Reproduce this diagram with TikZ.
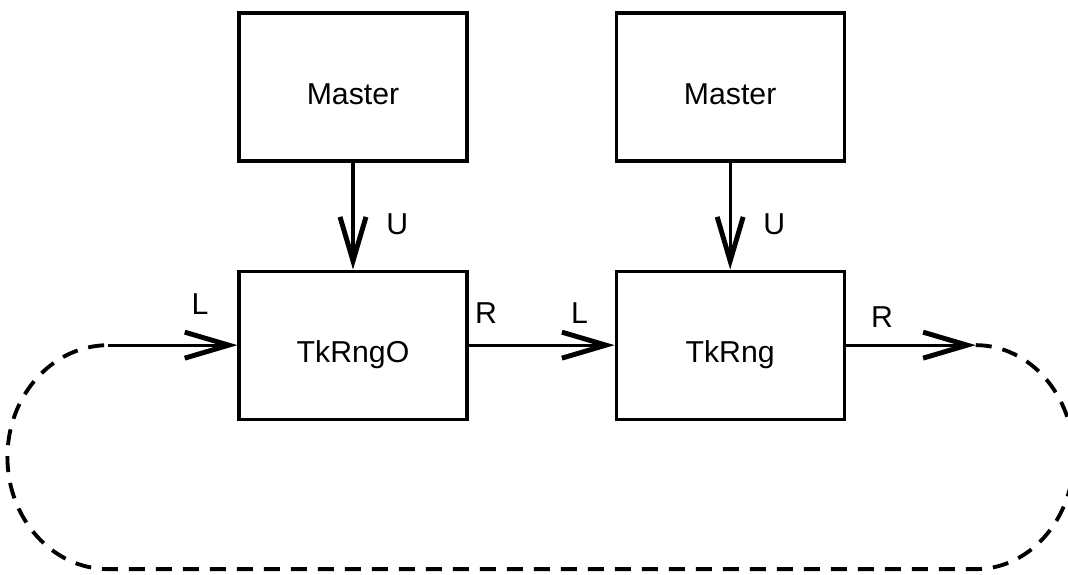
\documentclass[tikz,border=0pt]{standalone}
\usepackage{fontspec}
\setmainfont{Liberation Sans}
\usetikzlibrary{arrows.meta, positioning, calc}
\tikzset{blk/.style={draw, line width=0.9pt, minimum width=2.28cm, minimum height=1.48cm,
  text height=10pt, text depth=0pt, font=\fontsize{8.6}{10}\selectfont},
  sig/.style={line width=0.9pt, -{Straight Barb[length=4.4mm, width=2.6mm, line width=1.4pt]}},
  lbl/.style={font=\fontsize{8.6}{10}\selectfont},
  ringback/.style={line width=1.1pt, dash pattern=on 0.16cm off 0.11cm}}

\begin{document}
\begin{tikzpicture}
\useasboundingbox (0,0) rectangle (10.68,5.75);
\node[blk] (mst1) at (3.53,4.88) {Master};
\node[blk, below=1.07cm of mst1] (tko) {TkRngO};
\node[blk, right=1.46cm of tko] (tk) {TkRng};
\node[blk, above=1.07cm of tk] (mst2) {Master};
\coordinate[left=1.29cm of tko.west] (lin);
\coordinate[right=1.30cm of tk.east] (rout);
\draw[sig] (mst1) -- node[lbl, pos=0.58, right=0.2cm] {U} (tko);
\draw[sig] (mst2) -- node[lbl, pos=0.58, right=0.2cm] {U} (tk);
\draw[sig] (lin) -- node[lbl, pos=0.71, above=0.17cm] {L} (tko);
\draw[sig] (tko) -- node[lbl, pos=0.12, above=0.08cm] {R}
  node[lbl, pos=0.76, above=0.08cm] {L} (tk);
\draw[sig] (tk) -- node[lbl, pos=0.28, above=0.04cm] {R} (rout);
\draw[ringback] (rout) arc[start angle=90, end angle=-90, x radius=0.98, y radius=1.12]
  -- ($(lin)+(0,-2.24)$) arc[start angle=-90, end angle=-270, x radius=1.01, y radius=1.12];
\end{tikzpicture}
\end{document}
